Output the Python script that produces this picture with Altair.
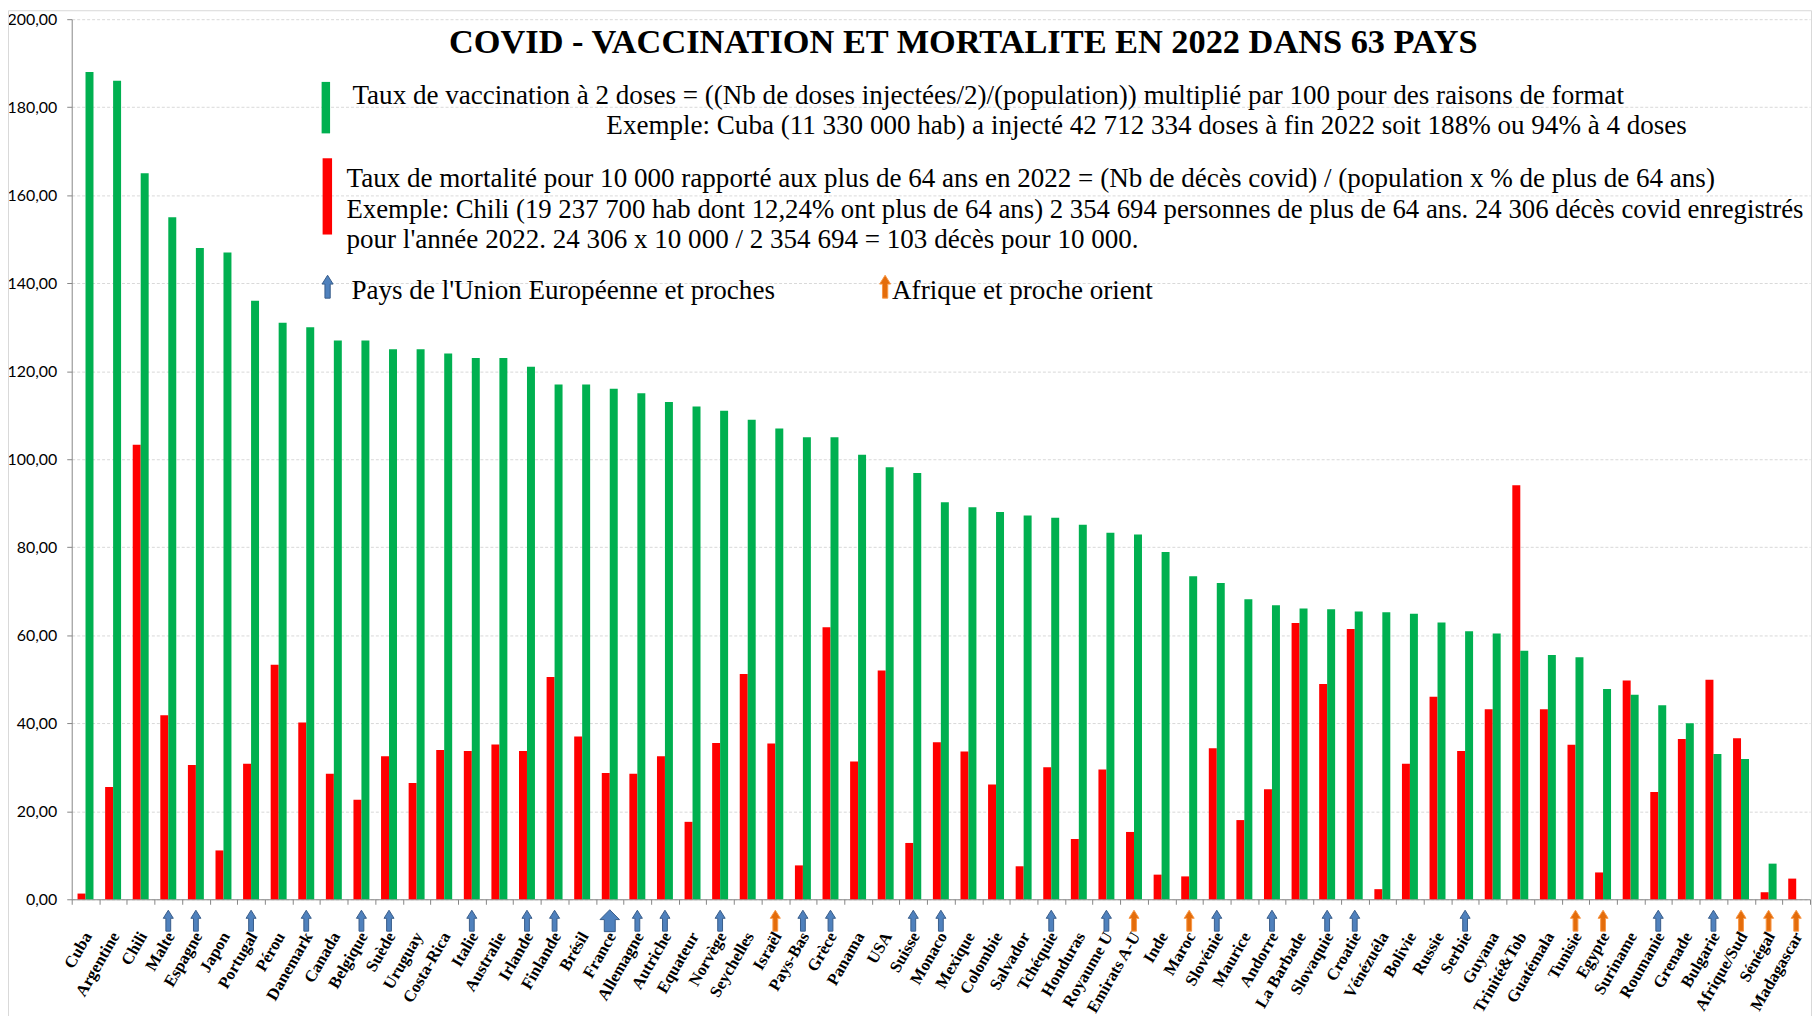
import altair as alt
import pandas as pd

countries = ["Cuba", "Argentine", "Chili", "Malte", "Espagne", "Japon", "Portugal", "Pérou",
             "Danemark", "Canada", "Belgique", "Suède", "Uruguay", "Costa-Rica", "Italie",
             "Australie", "Irlande", "Finlande", "Brésil", "France", "Allemagne", "Autriche",
             "Equateur", "Norvège", "Seychelles", "Israël", "Pays-Bas", "Grèce", "Panama", "USA",
             "Suisse", "Monaco", "Mexique", "Colombie", "Salvador", "Tchéquie", "Honduras",
             "Royaume U", "Emirats A-U", "Inde", "Maroc", "Slovénie", "Maurice", "Andorre",
             "La Barbade", "Slovaquie", "Croatie", "Vénézuéla", "Bolivie", "Russie", "Serbie",
             "Guyana", "Trinité&Tob", "Guatémala", "Tunisie", "Egypte", "Suriname", "Roumanie",
             "Grenade", "Bulgarie", "Afrique/Sud", "Sénégal", "Madagascar"]

vaccination = [188, 186, 165, 155, 148, 147, 136, 131, 130, 127,
               127, 125, 125, 124, 123, 123, 121, 117, 117, 116,
               115, 113, 112, 111, 109, 107, 105, 105, 101, 98.2,
               96.9, 90.2, 89.1, 88, 87.2, 86.7, 85.1, 83.3, 82.9, 78.9,
               73.4, 71.9, 68.2, 66.8, 66.1, 65.9, 65.4, 65.2, 64.9, 62.9,
               60.9, 60.4, 56.5, 55.5, 55, 47.8, 46.5, 44.1, 40, 33,
               31.9, 8.1, 0]

mortality = [1.3, 25.5, 103.3, 41.8, 30.5, 11.1, 30.8, 53.3, 40.2, 28.5,
             22.6, 32.5, 26.4, 33.9, 33.7, 35.2, 33.7, 50.5, 37.0, 28.7,
             28.5, 32.5, 17.6, 35.5, 51.2, 35.4, 7.7, 61.8, 31.3, 52.0,
             12.8, 35.7, 33.6, 26.1, 7.5, 30.0, 13.7, 29.5, 15.3, 5.6,
             5.2, 34.3, 18.0, 25.0, 62.8, 48.9, 61.4, 2.3, 30.8, 46.0,
             33.7, 43.2, 94.1, 43.2, 35.1, 6.1, 49.7, 24.4, 36.4, 49.9,
             36.6, 1.6, 4.7]

pays_ue = ["Malte", "Espagne", "Portugal", "Danemark", "Belgique", "Suède", "Italie", "Irlande",
           "Finlande", "France", "Allemagne", "Autriche", "Norvège", "Pays-Bas", "Grèce", "Suisse",
           "Monaco", "Tchéquie", "Royaume U", "Slovénie", "Andorre", "Slovaquie", "Croatie",
           "Serbie", "Roumanie", "Bulgarie"]
pays_afrique = ["Israël", "Emirats A-U", "Maroc", "Tunisie", "Egypte", "Afrique/Sud", "Sénégal",
                "Madagascar"]

series = ["Mortalité", "Vaccination"]

rows = []
for c, v, m in zip(countries, vaccination, mortality):
    rows.append({"pays": c, "serie": "Mortalité", "valeur": m})
    rows.append({"pays": c, "serie": "Vaccination", "valeur": v})
df = pd.DataFrame(rows)

groups = []
for c in countries:
    if c in pays_ue:
        groups.append("UE")
    elif c in pays_afrique:
        groups.append("AF")
    else:
        groups.append("")
df_groups = pd.DataFrame({"pays": countries, "groupe": groups})

W, H = 1746, 884
GRAY = "#868686"

x_scale = alt.Scale(domain=countries, paddingInner=0, paddingOuter=0)

x_axis = alt.Axis(title=None, labelAngle=300, labelAlign="right", labelBaseline="middle",
                  labelFont="Liberation Serif", labelFontWeight="bold", labelFontSize=16.7,
                  labelColor="#000000", labelPadding=29, labelOffset=2, tickBand="extent",
                  tickSize=5, tickColor=GRAY, domainColor=GRAY, grid=False, labelOverlap=False)

y_axis = alt.Axis(title=None, values=list(range(0, 201, 20)),
                  labelExpr="replace(format(datum.value, '.2f'), '.', ',')",
                  labelFont="Lato", labelFontSize=16, labelColor="#000000", labelPadding=10,
                  tickSize=5, tickColor=GRAY, domainColor=GRAY,
                  gridColor="#d9d9d9", gridDash=[3, 2])

bars = alt.Chart(df).mark_bar().encode(
    x=alt.X("pays:N", scale=x_scale, axis=x_axis),
    xOffset=alt.XOffset("serie:N", sort=series,
                        scale=alt.Scale(domain=series, paddingInner=0, paddingOuter=0.73)),
    y=alt.Y("valeur:Q", scale=alt.Scale(domain=[0, 200], nice=False), axis=y_axis),
    color=alt.Color("serie:N", scale=alt.Scale(domain=series, range=["#ff0000", "#00b050"]),
                    legend=None),
)

ARROW = "M -0.23 1 L -0.23 -0.23 L -0.48 -0.23 L 0 -1 L 0.48 -0.23 L 0.23 -0.23 L 0.23 1 Z"
ARROW_BIG = "M -0.5 1 L -0.5 -0.1 L -0.89 -0.1 L 0 -1 L 0.89 -0.1 L 0.5 -0.1 L 0.5 1 Z"

arrows_ue = alt.Chart(df_groups).transform_filter(
    "datum.groupe == 'UE' && datum.pays != 'France'"
).mark_point(shape=ARROW, filled=True, size=441, fill="#4f81bd", stroke="#385d8a",
             strokeWidth=1, opacity=1, dx=3).encode(
    x=alt.X("pays:N", scale=x_scale, axis=x_axis),
    y=alt.value(H + 21.5),
)

arrow_france = alt.Chart(df_groups).transform_filter(
    "datum.pays == 'France'"
).mark_point(shape=ARROW_BIG, filled=True, size=484, fill="#4f81bd", stroke="#385d8a",
             strokeWidth=1, opacity=1, dx=4).encode(
    x=alt.X("pays:N", scale=x_scale, axis=x_axis),
    y=alt.value(H + 21.5),
)

arrows_af = alt.Chart(df_groups).transform_filter(
    "datum.groupe == 'AF'"
).mark_point(shape=ARROW, filled=True, size=441, fill="#e46c0a", stroke="#f79646",
             strokeWidth=1, opacity=1, dx=2).encode(
    x=alt.X("pays:N", scale=x_scale, axis=x_axis),
    y=alt.value(H + 21.5),
)

one = pd.DataFrame({"k": [0]})


def label(txt, x, y, size=27.2, weight="normal", align="left"):
    return alt.Chart(one).mark_text(
        text=txt, font="Liberation Serif", fontSize=size, fontWeight=weight,
        align=align, baseline="alphabetic", color="#000000"
    ).encode(x=alt.value(x), y=alt.value(y))


title_txt = "COVID - VACCINATION ET MORTALITE EN 2022 DANS 63 PAYS"
t1 = "Taux de vaccination à 2 doses = ((Nb de doses injectées/2)/(population)) multiplié par 100 pour des raisons de format"
t2 = "Exemple: Cuba (11 330 000 hab) a injecté 42 712 334 doses à fin 2022  soit 188% ou 94% à 4 doses"
t3 = "Taux de mortalité pour 10 000 rapporté aux plus de 64 ans en 2022 = (Nb de décès covid) / (population x % de plus de 64 ans)"
t4 = "Exemple: Chili (19 237 700 hab dont 12,24% ont plus de 64 ans) 2 354 694 personnes de plus de 64 ans. 24 306 décès covid enregistrés"
t5 = "pour l'année 2022. 24 306 x 10 000 / 2 354 694 = 103 décès pour 10 000."
t6 = "Pays de l'Union Européenne et proches"
t7 = "Afrique et proche orient"

texts = [
    label(title_txt, 895.5, 34, size=34.5, weight="bold", align="center"),
    label(t1, 282, 85.5),
    label(t2, 537, 115.3),
    label(t3, 276, 169),
    label(t4, 276, 200, size=26.9),
    label(t5, 276, 230),
    label(t6, 281, 281.3),
    label(t7, 824, 281.3),
]

sw_green = alt.Chart(one).mark_rect(color="#00b050").encode(
    x=alt.value(251), x2=alt.value(259.5), y=alt.value(63), y2=alt.value(114.7))
sw_red = alt.Chart(one).mark_rect(color="#ff0000").encode(
    x=alt.value(252), x2=alt.value(261.5), y=alt.value(139.7), y2=alt.value(216.3))
leg_blue = alt.Chart(one).mark_point(shape=ARROW, filled=True, size=529, fill="#4f81bd",
                                     stroke="#385d8a", strokeWidth=1, opacity=1).encode(
    x=alt.value(257), y=alt.value(268.7))
leg_orange = alt.Chart(one).mark_point(shape=ARROW, filled=True, size=529, fill="#e46c0a",
                                       stroke="#f79646", strokeWidth=1, opacity=1).encode(
    x=alt.value(817), y=alt.value(268.7))

frame_top = alt.Chart(one).mark_rule(color="#d9d9d9", strokeWidth=1).encode(
    x=alt.value(-63.5), x2=alt.value(W + 1.5), y=alt.value(-8.5))
frame_left = alt.Chart(one).mark_rule(color="#d9d9d9", strokeWidth=1).encode(
    x=alt.value(-63.5), y=alt.value(-8.5), y2=alt.value(H + 124))
frame_right = alt.Chart(one).mark_rule(color="#d9d9d9", strokeWidth=1).encode(
    x=alt.value(W + 1.5), y=alt.value(-8.5), y2=alt.value(H + 124))

chart = alt.layer(
    frame_top, frame_left, frame_right, bars, arrows_ue, arrow_france, arrows_af,
    sw_green, sw_red, leg_blue, leg_orange, *texts
).properties(
    width=W, height=H,
    padding={"left": 64, "top": 9, "right": 2, "bottom": 115},
    autosize=alt.AutoSizeParams(type="none"),
    background="#ffffff",
).configure_view(strokeWidth=0)

chart.save("out.html", embed_options={"renderer": "svg", "actions": False})
